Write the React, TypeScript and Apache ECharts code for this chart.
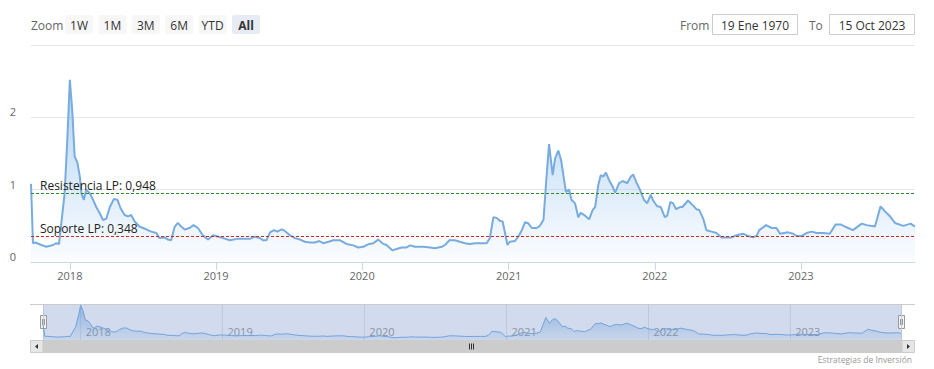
import React, { useEffect, useRef } from 'react';
import * as echarts from 'echarts';

const dates: string[] = [
  '2017-09-26','2017-10-01','2017-10-07','2017-10-22','2017-11-03','2017-11-20','2017-11-28','2017-12-05','2017-12-19','2017-12-26',
  '2018-01-01','2018-01-07','2018-01-13','2018-01-20','2018-01-26','2018-01-30','2018-02-05','2018-02-11','2018-02-20','2018-02-28',
  '2018-03-08','2018-03-17','2018-03-25','2018-04-02','2018-04-11','2018-04-21','2018-04-30','2018-05-08','2018-05-18','2018-05-26',
  '2018-06-03','2018-06-12','2018-06-24','2018-07-03','2018-07-11','2018-07-23','2018-08-05','2018-08-13','2018-08-26','2018-09-03',
  '2018-09-11','2018-09-20','2018-09-28','2018-10-06','2018-10-15','2018-10-27','2018-11-06','2018-11-17','2018-11-29','2018-12-12',
  '2018-12-25','2019-01-07','2019-01-19','2019-02-05','2019-02-22','2019-03-10','2019-03-27','2019-04-08','2019-04-21','2019-04-29',
  '2019-05-07','2019-05-16','2019-05-26','2019-06-03','2019-06-14','2019-06-22','2019-07-05','2019-07-17','2019-07-30','2019-08-11',
  '2019-08-24','2019-09-05','2019-09-16','2019-09-26','2019-10-09','2019-10-21','2019-11-07','2019-11-23','2019-12-10','2019-12-22',
  '2020-01-04','2020-01-16','2020-01-29','2020-02-10','2020-02-23','2020-03-02','2020-03-17','2020-03-27','2020-04-09','2020-04-20',
  '2020-04-30','2020-05-12','2020-06-02','2020-06-19','2020-07-01','2020-07-18','2020-07-26','2020-08-06','2020-08-20','2020-09-01',
  '2020-09-14','2020-09-26','2020-10-09','2020-10-26','2020-11-07','2020-11-15','2020-11-24','2020-12-02','2020-12-10','2020-12-17',
  '2020-12-23','2020-12-29','2021-01-04','2021-01-17','2021-01-25','2021-02-03','2021-02-11','2021-02-19','2021-02-28','2021-03-12',
  '2021-03-20','2021-03-29','2021-04-05','2021-04-12','2021-04-21','2021-04-27','2021-05-05','2021-05-12','2021-05-17','2021-05-24',
  '2021-06-01','2021-06-07','2021-06-16','2021-06-24','2021-06-30','2021-07-11','2021-07-21','2021-07-30','2021-08-05','2021-08-13',
  '2021-08-19','2021-08-25','2021-09-01','2021-09-09','2021-09-18','2021-09-24','2021-10-04','2021-10-13','2021-10-24','2021-11-02',
  '2021-11-08','2021-11-17','2021-11-25','2021-12-05','2021-12-13','2021-12-22','2021-12-28','2022-01-07','2022-01-16','2022-01-26',
  '2022-02-01','2022-02-09','2022-02-16','2022-02-23','2022-03-05','2022-03-11','2022-03-25','2022-04-05','2022-04-15','2022-04-22',
  '2022-05-02','2022-05-10','2022-05-23','2022-06-04','2022-06-17','2022-06-29','2022-07-12','2022-07-24','2022-08-10','2022-08-22',
  '2022-09-04','2022-09-12','2022-09-19','2022-10-06','2022-10-20','2022-11-01','2022-11-10','2022-11-30','2022-12-13','2022-12-21',
  '2023-01-03','2023-01-15','2023-01-28','2023-02-09','2023-02-26','2023-03-14','2023-03-29','2023-04-10','2023-04-25','2023-05-11',
  '2023-06-02','2023-06-14','2023-06-24','2023-07-05','2023-07-19','2023-07-30','2023-08-10','2023-08-24','2023-09-14','2023-10-02',
  '2023-10-13',
];

const values: number[] = [
  1.08,0.26,0.27,0.235,0.21,0.235,0.26,0.25,0.95,1.73,
  2.52,2.1,1.46,1.37,1.18,0.95,0.86,1.0,0.95,0.86,
  0.76,0.67,0.58,0.60,0.76,0.87,0.86,0.74,0.65,0.63,
  0.65,0.56,0.49,0.47,0.45,0.42,0.40,0.33,0.34,0.31,
  0.30,0.49,0.54,0.49,0.45,0.47,0.51,0.47,0.37,0.31,
  0.37,0.35,0.33,0.30,0.32,0.32,0.32,0.35,0.33,0.30,
  0.30,0.41,0.44,0.42,0.45,0.43,0.37,0.33,0.31,0.28,
  0.27,0.27,0.29,0.26,0.28,0.30,0.30,0.25,0.23,0.20,
  0.21,0.245,0.26,0.31,0.25,0.235,0.16,0.18,0.20,0.20,
  0.23,0.21,0.21,0.20,0.19,0.21,0.235,0.30,0.30,0.28,
  0.26,0.25,0.26,0.26,0.26,0.33,0.62,0.61,0.57,0.56,
  0.40,0.235,0.28,0.29,0.35,0.44,0.55,0.535,0.47,0.47,
  0.50,0.58,1.13,1.63,1.20,1.43,1.54,1.41,1.23,0.97,
  1.0,0.86,0.81,0.62,0.68,0.64,0.59,0.72,0.76,1.065,
  1.20,1.18,1.235,1.13,1.04,0.96,1.09,1.12,1.09,1.18,
  1.21,1.09,1.0,0.86,0.81,0.93,0.85,0.77,0.76,0.62,
  0.64,0.83,0.81,0.73,0.76,0.76,0.85,0.79,0.73,0.72,
  0.60,0.44,0.42,0.40,0.34,0.34,0.34,0.37,0.39,0.36,
  0.34,0.36,0.44,0.51,0.47,0.47,0.39,0.41,0.39,0.36,
  0.36,0.40,0.42,0.40,0.40,0.39,0.52,0.52,0.48,0.44,
  0.53,0.51,0.50,0.49,0.77,0.70,0.64,0.54,0.50,0.53,
  0.49,
];

const RESISTANCE = 0.948;
const SUPPORT = 0.348;
const resistanceLabel = 'Resistencia LP: 0,948';
const supportLabel = 'Soporte LP: 0,348';
const Y_MIN = 0;
const Y_MAX = 3;
const Y_INTERVAL = 1;
const zoomButtons = ['1W', '1M', '3M', '6M', 'YTD', 'All'];
const selectedButton = 'All';
const fromText = '19 Ene 1970';
const toText = '15 Oct 2023';
const creditText = 'Estrategias de Inversión';

const FONT = "'Open Sans', 'Noto Sans', sans-serif";
const YEAR_MS = 365 * 24 * 3600 * 1000;

const yearLabel = (v: number) => {
  const d = new Date(v);
  return d.getMonth() === 0 && d.getDate() === 1 ? String(d.getFullYear()) : '';
};

export default function App() {
  const ref = useRef<HTMLDivElement>(null);
  useEffect(() => {
    if (!ref.current) return;
    const chart = echarts.init(ref.current, undefined, { renderer: 'svg' });
    const data = dates.map((d, i) => [d, values[i]]);
    const first = dates[0];
    const last = dates[dates.length - 1];

    const buttons = zoomButtons.map((b, i) => ({
      type: 'group',
      x: 65 + i * 33.4,
      y: 15,
      children: [
        {
          type: 'rect',
          shape: { x: 0, y: 0, width: 28, height: 19, r: 2 },
          style: { fill: b === selectedButton ? '#e6ebf5' : '#f7f7f7' },
        },
        {
          type: 'text',
          x: 14,
          y: 10,
          style: {
            text: b,
            align: 'center',
            verticalAlign: 'middle',
            fill: '#333',
            font: `${b === selectedButton ? 'bold ' : ''}12px ${FONT}`,
          },
        },
      ],
    }));

    const option: any = {
      animation: false,
      backgroundColor: '#ffffff',
      textStyle: { fontFamily: FONT },
      grid: [
        { left: 31, top: 45, width: 884, height: 217, containLabel: false },
        {
          left: 43, top: 304, width: 858, height: 36, containLabel: false,
          show: true, backgroundColor: 'rgb(209,219,237)', borderWidth: 0,
        },
      ],
      xAxis: [
        {
          type: 'time',
          gridIndex: 0,
          min: first,
          max: last,
          minInterval: YEAR_MS,
          maxInterval: YEAR_MS,
          axisLine: { show: true, lineStyle: { color: '#ccd6eb', width: 1 } },
          axisTick: { show: true, length: 8, lineStyle: { color: '#ccd6eb' } },
          axisLabel: {
            formatter: yearLabel,
            color: '#666',
            fontSize: 11,
            margin: 8,
            fontFamily: FONT,
            showMinLabel: false,
            showMaxLabel: false,
          },
          splitLine: { show: false },
        },
        {
          type: 'time',
          gridIndex: 1,
          min: first,
          max: last,
          minInterval: YEAR_MS,
          maxInterval: YEAR_MS,
          axisLine: { show: false },
          axisTick: { show: false },
          axisLabel: {
            inside: true,
            formatter: yearLabel,
            color: '#8a93a5',
            fontSize: 11,
            align: 'left',
            padding: [0, 0, 0, 5],
            margin: 3,
            fontFamily: FONT,
            showMinLabel: false,
            showMaxLabel: false,
          },
          splitLine: { show: true, lineStyle: { color: '#c0c9db', width: 1 } },
        },
      ],
      yAxis: [
        {
          type: 'value',
          gridIndex: 0,
          min: Y_MIN,
          max: Y_MAX,
          interval: Y_INTERVAL,
          axisLine: { show: false },
          axisTick: { show: false },
          axisLabel: {
            color: '#666',
            fontSize: 11,
            margin: 15,
            verticalAlign: 'bottom',
            fontFamily: FONT,
            formatter: (v: number) => (v >= Y_MAX ? '' : String(v)),
          },
          splitLine: { lineStyle: { color: '#e6e6e6', width: 1 } },
        },
        {
          type: 'value',
          gridIndex: 1,
          min: 0,
          max: 2.6,
          axisLine: { show: false },
          axisTick: { show: false },
          axisLabel: { show: false },
          splitLine: { show: false },
        },
      ],
      series: [
        {
          type: 'line',
          xAxisIndex: 0,
          yAxisIndex: 0,
          data,
          showSymbol: false,
          silent: true,
          lineStyle: { color: '#78acde', width: 2 },
          itemStyle: { color: '#78acde' },
          areaStyle: {
            color: new echarts.graphic.LinearGradient(0, 0, 0, 1, [
              { offset: 0, color: 'rgba(124,181,236,0.85)' },
              { offset: 1, color: 'rgba(124,181,236,0.04)' },
            ]),
          },
          markLine: {
            silent: true,
            symbol: 'none',
            animation: false,
            data: [
              {
                yAxis: RESISTANCE,
                lineStyle: { color: '#2f8a2f', type: [3, 2], width: 1 },
                label: {
                  show: true,
                  formatter: resistanceLabel,
                  position: 'insideStartTop',
                  distance: [9, 2],
                  color: '#222',
                  fontSize: 12,
                  fontFamily: FONT,
                },
              },
              {
                yAxis: SUPPORT,
                lineStyle: { color: '#cc2a2a', type: [3, 2], width: 1 },
                label: {
                  show: true,
                  formatter: supportLabel,
                  position: 'insideStartTop',
                  distance: [9, 2],
                  color: '#222',
                  fontSize: 12,
                  fontFamily: FONT,
                },
              },
            ],
          },
        },
        {
          type: 'line',
          xAxisIndex: 1,
          yAxisIndex: 1,
          data,
          showSymbol: false,
          silent: true,
          lineStyle: { color: '#72a3dc', width: 1 },
          areaStyle: {
            color: new echarts.graphic.LinearGradient(0, 0, 0, 1, [
              { offset: 0, color: 'rgba(100,150,215,0.8)' },
              { offset: 1, color: 'rgba(100,150,215,0.1)' },
            ]),
          },
        },
      ],
      graphic: [
        {
          type: 'text',
          x: 31,
          y: 25,
          style: { text: 'Zoom', fill: '#666', font: `12px ${FONT}`, verticalAlign: 'middle' },
        },
        ...buttons,
        {
          type: 'text',
          x: 680,
          y: 25,
          style: { text: 'From', fill: '#666', font: `12px ${FONT}`, verticalAlign: 'middle' },
        },
        {
          type: 'rect',
          shape: { x: 712.5, y: 14.5, width: 85, height: 20 },
          style: { fill: '#fff', stroke: '#cccccc', lineWidth: 1 },
        },
        {
          type: 'text',
          x: 755,
          y: 25,
          style: { text: fromText, fill: '#333', font: `12px ${FONT}`, align: 'center', verticalAlign: 'middle' },
        },
        {
          type: 'text',
          x: 809,
          y: 25,
          style: { text: 'To', fill: '#666', font: `12px ${FONT}`, verticalAlign: 'middle' },
        },
        {
          type: 'rect',
          shape: { x: 829.5, y: 14.5, width: 85, height: 20 },
          style: { fill: '#fff', stroke: '#cccccc', lineWidth: 1 },
        },
        {
          type: 'text',
          x: 872,
          y: 25,
          style: { text: toText, fill: '#333', font: `12px ${FONT}`, align: 'center', verticalAlign: 'middle' },
        },
        {
          type: 'line',
          shape: { x1: 30, y1: 304.5, x2: 915, y2: 304.5 },
          style: { stroke: '#cccccc', lineWidth: 1 },
        },
        {
          type: 'rect',
          shape: { x: 30, y: 340, width: 885, height: 13 },
          style: { fill: '#f2f2f2' },
        },
        {
          type: 'rect',
          shape: { x: 43, y: 340, width: 859, height: 13 },
          style: { fill: '#cccccc' },
        },
        {
          type: 'rect',
          shape: { x: 30.5, y: 340.5, width: 12.5, height: 12 },
          style: { fill: '#e6e6e6', stroke: '#cccccc', lineWidth: 1 },
        },
        {
          type: 'rect',
          shape: { x: 902, y: 340.5, width: 12.5, height: 12 },
          style: { fill: '#e6e6e6', stroke: '#cccccc', lineWidth: 1 },
        },
        {
          type: 'polygon',
          shape: { points: [[38, 344], [38, 349], [35, 346.5]] },
          style: { fill: '#333' },
        },
        {
          type: 'polygon',
          shape: { points: [[907, 344], [907, 349], [910, 346.5]] },
          style: { fill: '#333' },
        },
        ...[469.5, 471.5, 473.5].map((x) => ({
          type: 'line',
          shape: { x1: x, y1: 343.5, x2: x, y2: 349.5 },
          style: { stroke: '#333', lineWidth: 1 },
        })),
        ...[40.5, 898.5].map((x) => ({
          type: 'group',
          x,
          y: 315.5,
          children: [
            {
              type: 'rect',
              shape: { x: 0, y: 0, width: 6, height: 13 },
              style: { fill: '#f2f2f2', stroke: '#999999', lineWidth: 1 },
            },
            {
              type: 'line',
              shape: { x1: 2, y1: 3.5, x2: 2, y2: 9.5 },
              style: { stroke: '#999999', lineWidth: 1 },
            },
            {
              type: 'line',
              shape: { x1: 4, y1: 3.5, x2: 4, y2: 9.5 },
              style: { stroke: '#999999', lineWidth: 1 },
            },
          ],
        })),
        {
          type: 'text',
          x: 912,
          y: 359,
          style: {
            text: creditText,
            fill: '#999',
            font: `8.5px ${FONT}`,
            align: 'right',
            verticalAlign: 'middle',
          },
        },
      ],
    };

    chart.setOption(option);
    return () => chart.dispose();
  }, []);

  return (
    <div
      ref={ref}
      style={{ position: 'fixed', left: 0, top: 0, width: 934, height: 369 }}
    />
  );
}
